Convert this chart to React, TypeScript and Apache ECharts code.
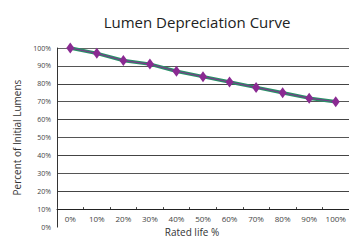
import React, { useEffect, useRef } from "react";
import * as echarts from "echarts";

const categories = ["0%", "10%", "20%", "30%", "40%", "50%", "60%", "70%", "80%", "90%", "100%"];
const lumens = [100, 97, 93, 91, 87, 84, 81, 78, 75, 72, 70];

export default function App() {
  const ref = useRef<HTMLDivElement>(null);
  useEffect(() => {
    document.body.style.margin = "0";
    const chart = echarts.init(ref.current!, null, { renderer: "svg" });
    const font = "'Open Sans', 'Noto Sans', sans-serif";
    chart.setOption({
      animation: false,
      title: {
        text: "Lumen Depreciation Curve",
        left: 192,
        textAlign: "center",
        top: 9,
        textStyle: { fontFamily: font, fontSize: 15, fontWeight: "normal", color: "#222" },
      },
      grid: { left: 57, right: -7, top: 48, bottom: 14, containLabel: false },
      xAxis: {
        type: "category",
        data: categories,
        boundaryGap: true,
        offset: -18,
        name: "Rated life %",
        nameLocation: "middle",
        nameGap: 15,
        nameTextStyle: { fontFamily: font, fontSize: 10, color: "#333", padding: [0, 0, 0, -22] },
        axisLine: { lineStyle: { color: "#222", width: 1 } },
        axisTick: { show: true, inside: true, length: 2, lineStyle: { color: "#444" } },
        axisLabel: { fontFamily: font, fontSize: 8, color: "#444", margin: 5 },
      },
      yAxis: {
        type: "value",
        min: 0,
        max: 100,
        interval: 10,
        name: "Percent of Initial Lumens",
        nameLocation: "middle",
        nameGap: 34,
        nameTextStyle: { fontFamily: font, fontSize: 10, color: "#333" },
        axisLine: { show: true, lineStyle: { color: "#333", width: 1 } },
        axisTick: { show: false },
        axisLabel: { fontFamily: font, fontSize: 7, color: "#444", margin: 6, formatter: "{value}%" },
        splitLine: {
          show: true,
          lineStyle: { color: ["transparent", "#555", "#444", "#555", "#444", "#555", "#444", "#555", "#444", "#555", "#666"], width: 1 },
        },
      },
      series: [
        {
          type: "line",
          data: lumens,
          symbol: "none",
          lineStyle: { color: "#2a9068", width: 3.5 },
          silent: true,
        },
        {
          type: "line",
          data: lumens,
          symbol: "diamond",
          symbolSize: [8, 11],
          itemStyle: { color: "#8a2a92" },
          lineStyle: { color: "#7a3a8a", width: 1.2 },
        },
      ],
    });
    return () => chart.dispose();
  }, []);
  return <div ref={ref} style={{ width: 349, height: 242 }} />;
}
